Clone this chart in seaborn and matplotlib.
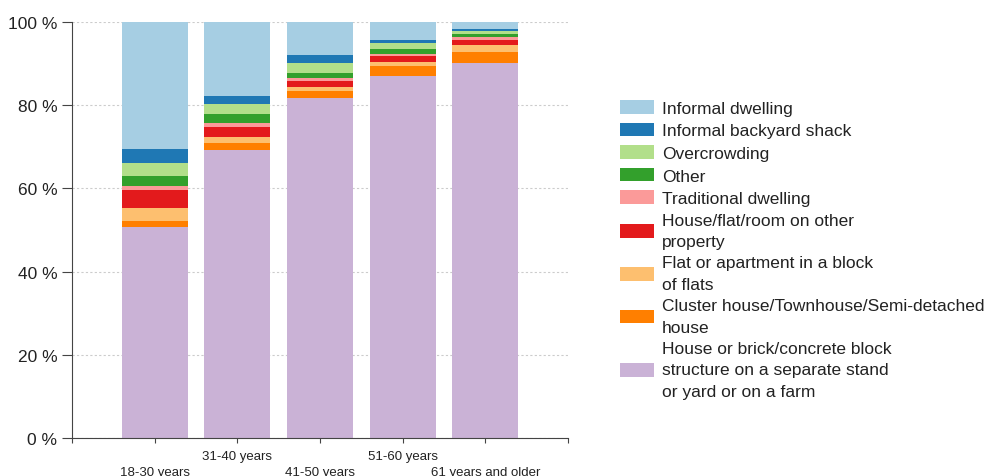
import numpy as np
import pandas as pd
import matplotlib
matplotlib.use("Agg")
import matplotlib.pyplot as plt
from matplotlib.patches import Patch
import seaborn as sns

# age groups on the x axis
age_groups = ['18-30 years', '31-40 years', '41-50 years', '51-60 years', '61 years and older']

# share of each dwelling type (%), listed from the bottom of the stack upwards
house_separate = [50.8, 69.3, 81.8, 86.9, 90.1]
cluster_house = [1.4, 1.7, 1.6, 2.5, 2.8]
flat_block = [3.2, 1.4, 1.0, 1.0, 1.6]
other_property = [4.3, 2.4, 1.5, 1.5, 1.2]
traditional = [0.8, 0.9, 0.6, 0.4, 0.7]
other = [2.5, 2.2, 1.3, 1.1, 0.7]
overcrowding = [3.2, 2.3, 2.4, 1.5, 0.7]
backyard_shack = [3.2, 2.1, 1.9, 0.8, 0.4]
informal_dwelling = [30.6, 17.7, 7.9, 4.3, 1.8]

series_names = [
    'House or brick/concrete block\nstructure on a separate stand\nor yard or on a farm',
    'Cluster house/Townhouse/Semi-detached\nhouse',
    'Flat or apartment in a block\nof flats',
    'House/flat/room on other\nproperty',
    'Traditional dwelling',
    'Other',
    'Overcrowding',
    'Informal backyard shack',
    'Informal dwelling',
]
series_values = [house_separate, cluster_house, flat_block, other_property, traditional,
                 other, overcrowding, backyard_shack, informal_dwelling]

paired = sns.color_palette("Paired", 9)
# Paired order: light blue, blue, light green, green, pink, red, light orange, orange, purple
series_colors = [paired[8], paired[7], paired[6], paired[5], paired[4],
                 paired[3], paired[2], paired[1], paired[0]]

sns.set_style("white")
plt.rcParams['font.family'] = ['Liberation Sans', 'DejaVu Sans']
text_col = '#222222'

fig = plt.figure(figsize=(9.85, 4.77), dpi=100)
ax = fig.add_axes([72 / 985, 1 - 439 / 477, (568 - 72) / 985, (439 - 23) / 477])

# stacked bars: draw cumulative totals from the top down so each layer covers the one above
cum = np.cumsum(np.array(series_values), axis=0)
for i in range(len(series_names) - 1, -1, -1):
    df = pd.DataFrame({'age': age_groups, 'value': cum[i]})
    sns.barplot(data=df, x='age', y='value', color=series_colors[i], saturation=1,
                errorbar=None, width=0.8, ax=ax, linewidth=0)

ax.set_xlim(-1, 5)
ax.set_ylim(0, 100)
ax.set_xlabel('')
ax.set_ylabel('')

ax.set_xticks(range(-1, 6))
ax.set_xticklabels([''] + age_groups + [''], fontsize=9.5, color=text_col)
for k, t in enumerate(ax.xaxis.get_major_ticks()):
    t.set_pad(5 if k % 2 == 0 else 16.5)
ax.tick_params(axis='x', bottom=True, length=3.6, width=0.8, color='#444444', direction='out')

ax.set_yticks([0, 20, 40, 60, 80, 100])
ax.set_yticklabels([f'{v} %' for v in [0, 20, 40, 60, 80, 100]], fontsize=12.5, color=text_col)
ax.tick_params(axis='y', left=True, length=7, width=0.8, color='#444444', pad=3.5, direction='out')

ax.set_axisbelow(True)
ax.yaxis.grid(True, color='#cccccc', linestyle=(0, (2, 2)), linewidth=0.8)
ax.xaxis.grid(False)
for s in ['top', 'right']:
    ax.spines[s].set_visible(False)
for s in ['left', 'bottom']:
    ax.spines[s].set_color('#444444')
    ax.spines[s].set_linewidth(0.8)

handles = [Patch(facecolor=series_colors[i], edgecolor='none', label=series_names[i])
           for i in range(len(series_names) - 1, -1, -1)]
leg = fig.legend(handles=handles, loc='upper left', bbox_to_anchor=(620 / 985, 1 - 101 / 477),
                 frameon=False, fontsize=12.5, handlelength=1.95, handleheight=0.85,
                 handletextpad=0.45, labelspacing=0.38, borderpad=0, borderaxespad=0,
                 labelcolor=text_col)
for txt in leg.get_texts():
    txt.set_linespacing(1.52)

fig.savefig('out.png', dpi=100)
